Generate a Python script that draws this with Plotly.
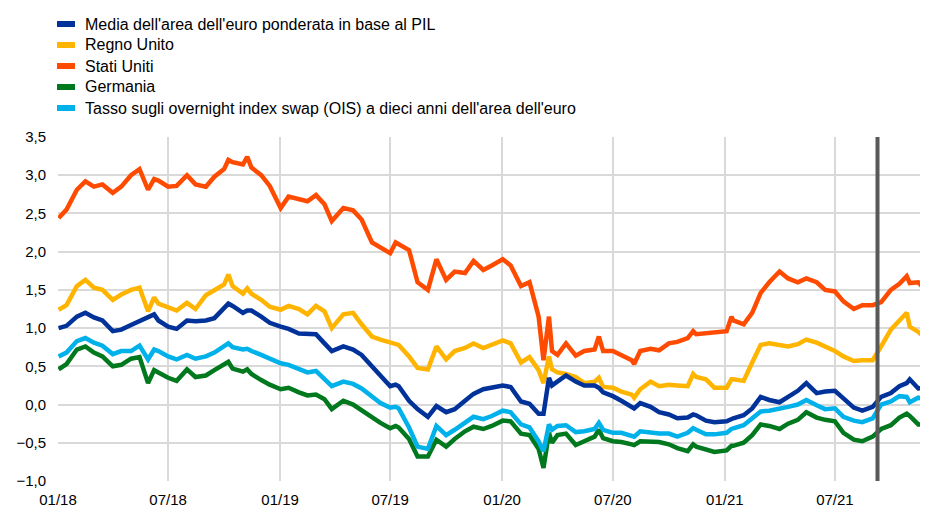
import plotly.graph_objects as go

dates = [
    "2018-01-02", "2018-01-15", "2018-02-01", "2018-02-15", "2018-03-01", "2018-03-15",
    "2018-04-01", "2018-04-15", "2018-05-01", "2018-05-15", "2018-05-29", "2018-06-08",
    "2018-06-15", "2018-07-01", "2018-07-15", "2018-08-01", "2018-08-15", "2018-09-01",
    "2018-09-15", "2018-10-01", "2018-10-08", "2018-10-15", "2018-11-01", "2018-11-08",
    "2018-11-15", "2018-12-01", "2018-12-15",
    "2019-01-02", "2019-01-15", "2019-02-01", "2019-02-15", "2019-03-01", "2019-03-15",
    "2019-03-27", "2019-04-15", "2019-05-01", "2019-05-15", "2019-06-01", "2019-06-15",
    "2019-07-01", "2019-07-10", "2019-07-15", "2019-08-01", "2019-08-15", "2019-09-01",
    "2019-09-15", "2019-10-01", "2019-10-15", "2019-11-01", "2019-11-15", "2019-12-01",
    "2019-12-15",
    "2020-01-02", "2020-01-15", "2020-02-01", "2020-02-15", "2020-03-01", "2020-03-09",
    "2020-03-18", "2020-03-23", "2020-04-01", "2020-04-15", "2020-05-01", "2020-05-15",
    "2020-06-01", "2020-06-08", "2020-06-15", "2020-07-01", "2020-07-15", "2020-08-01",
    "2020-08-05", "2020-08-15", "2020-09-01", "2020-09-15", "2020-10-01", "2020-10-15",
    "2020-11-01", "2020-11-10", "2020-11-15", "2020-12-01", "2020-12-15",
    "2021-01-04", "2021-01-12", "2021-01-15", "2021-02-01", "2021-02-15", "2021-03-01",
    "2021-03-15", "2021-04-01", "2021-04-15", "2021-05-01", "2021-05-15", "2021-06-01",
    "2021-06-15", "2021-07-01", "2021-07-15", "2021-08-01", "2021-08-15", "2021-09-01",
    "2021-09-15", "2021-10-01", "2021-10-15", "2021-10-27", "2021-11-01", "2021-11-15",
    "2021-11-29",
]

euro_area = [
    1.00, 1.03, 1.15, 1.20, 1.14, 1.10, 0.96, 0.98, 1.04, 1.09, 1.15, 1.18,
    1.10, 1.02, 0.99, 1.10, 1.09, 1.10, 1.13, 1.25, 1.32, 1.29, 1.20, 1.23,
    1.23, 1.15, 1.07,
    1.02, 0.99, 0.93, 0.92, 0.92, 0.80, 0.70, 0.76, 0.72, 0.65, 0.50, 0.37,
    0.24, 0.26, 0.24, 0.05, -0.06, -0.16, -0.02, -0.10, -0.06, 0.05, 0.14, 0.20,
    0.22,
    0.25, 0.23, 0.04, 0.01, -0.12, -0.12, 0.35, 0.25, 0.30, 0.38, 0.30, 0.25,
    0.25, 0.22, 0.16, 0.11, 0.05, -0.03, -0.05, 0.02, -0.03, -0.10, -0.13, -0.18,
    -0.17, -0.13, -0.14, -0.21, -0.23,
    -0.22, -0.19, -0.18, -0.14, -0.05, 0.10, 0.06, 0.03, 0.10, 0.18, 0.28, 0.15,
    0.17, 0.18, 0.08, -0.04, -0.08, -0.03, 0.10, 0.15, 0.24, 0.28, 0.33, 0.21,
    0.22,
]

uk = [
    1.24, 1.30, 1.55, 1.63, 1.53, 1.50, 1.37, 1.44, 1.50, 1.53, 1.22, 1.40,
    1.32, 1.27, 1.23, 1.33, 1.25, 1.43, 1.50, 1.57, 1.70, 1.55, 1.45, 1.52,
    1.45, 1.37, 1.28,
    1.24, 1.29, 1.25, 1.18, 1.29, 1.22, 1.00, 1.18, 1.20, 1.05, 0.89, 0.85,
    0.81, 0.80, 0.78, 0.63, 0.48, 0.46, 0.76, 0.59, 0.70, 0.74, 0.80, 0.74,
    0.78,
    0.84, 0.80, 0.55, 0.62, 0.45, 0.28, 0.63, 0.46, 0.42, 0.40, 0.36, 0.28,
    0.30, 0.35, 0.23, 0.22, 0.17, 0.13, 0.09, 0.20, 0.30, 0.24, 0.26, 0.25,
    0.24, 0.40, 0.36, 0.33, 0.22,
    0.22, 0.33, 0.33, 0.31, 0.55, 0.78, 0.80, 0.78, 0.76, 0.79, 0.85, 0.81,
    0.76, 0.70, 0.63, 0.57, 0.58, 0.58, 0.76, 0.98, 1.10, 1.20, 1.02, 0.95,
    0.85,
]

us = [
    2.44, 2.55, 2.81, 2.92, 2.85, 2.88, 2.77, 2.85, 3.00, 3.08, 2.81, 2.95,
    2.93, 2.85, 2.86, 3.00, 2.88, 2.85, 2.98, 3.08, 3.20, 3.17, 3.14, 3.24,
    3.10, 3.00, 2.86,
    2.57, 2.72, 2.68, 2.66, 2.74, 2.62, 2.40, 2.57, 2.54, 2.42, 2.12, 2.05,
    1.98, 2.12, 2.10, 2.02, 1.60, 1.50, 1.90, 1.63, 1.74, 1.72, 1.88, 1.76,
    1.82,
    1.90, 1.82, 1.55, 1.60, 1.15, 0.58, 1.15, 0.70, 0.65, 0.80, 0.64, 0.70,
    0.72, 0.89, 0.70, 0.70, 0.65, 0.58, 0.53, 0.70, 0.73, 0.71, 0.80, 0.82,
    0.87, 0.96, 0.92, 0.93, 0.94,
    0.96, 1.15, 1.10, 1.05, 1.20, 1.46, 1.60, 1.74, 1.65, 1.60, 1.65, 1.60,
    1.50, 1.48, 1.35, 1.25, 1.30, 1.30, 1.34, 1.50, 1.58, 1.68, 1.59, 1.60,
    1.48,
]

germany = [
    0.46, 0.53, 0.72, 0.76, 0.68, 0.63, 0.50, 0.52, 0.60, 0.62, 0.28, 0.45,
    0.42, 0.35, 0.31, 0.46, 0.36, 0.38, 0.45, 0.52, 0.56, 0.47, 0.43, 0.46,
    0.40, 0.32, 0.26,
    0.20, 0.22, 0.16, 0.12, 0.13, 0.07, -0.06, 0.05, 0.00, -0.08, -0.17, -0.24,
    -0.31, -0.28, -0.30, -0.45, -0.68, -0.68, -0.46, -0.55, -0.45, -0.35, -0.29, -0.32,
    -0.28,
    -0.21, -0.22, -0.38, -0.40, -0.58, -0.83, -0.37, -0.50, -0.40, -0.38, -0.53, -0.48,
    -0.42, -0.33, -0.44, -0.48, -0.49, -0.52, -0.53, -0.48, -0.48, -0.49, -0.52, -0.57,
    -0.61, -0.52, -0.55, -0.59, -0.62,
    -0.60, -0.54, -0.54, -0.50, -0.40, -0.26, -0.28, -0.32, -0.25, -0.20, -0.10, -0.17,
    -0.20, -0.22, -0.37, -0.46, -0.48, -0.42, -0.32, -0.27, -0.17, -0.12, -0.15, -0.26,
    -0.26,
]

ois = [
    0.63, 0.68, 0.83, 0.87, 0.81, 0.77, 0.66, 0.70, 0.70, 0.77, 0.59, 0.72,
    0.70, 0.63, 0.59, 0.65, 0.60, 0.63, 0.68, 0.76, 0.80, 0.75, 0.72, 0.73,
    0.70, 0.65, 0.60,
    0.54, 0.52, 0.46, 0.42, 0.44, 0.34, 0.24, 0.30, 0.27, 0.21, 0.11, 0.02,
    -0.04, -0.03, -0.05, -0.30, -0.55, -0.58, -0.28, -0.40, -0.33, -0.23, -0.16, -0.19,
    -0.15,
    -0.08, -0.10, -0.26, -0.30, -0.48, -0.61, -0.26, -0.33, -0.28, -0.27, -0.36, -0.35,
    -0.32, -0.24, -0.33, -0.37, -0.37, -0.41, -0.42, -0.35, -0.37, -0.38, -0.38, -0.42,
    -0.37, -0.31, -0.33, -0.39, -0.39,
    -0.37, -0.32, -0.31, -0.27, -0.18, -0.09, -0.08, -0.06, -0.03, 0.00, 0.06, -0.01,
    -0.06, -0.05, -0.16, -0.21, -0.23, -0.18, 0.00, 0.04, 0.11, 0.10, 0.03, 0.09,
    0.06,
]

names = [
    "Media dell'area dell'euro ponderata in base al PIL",
    "Regno Unito",
    "Stati Uniti",
    "Germania",
    "Tasso sugli overnight index swap (OIS) a dieci anni dell'area dell'euro",
]
colors = ["#003299", "#FFB400", "#FF4B00", "#00781E", "#00B1EA"]
series = [euro_area, uk, us, germany, ois]

event_date = "2021-09-09"
x_range = ["2018-01-01", "2021-12-01"]
y_range = [-1.0, 3.5]

# the page body adds an 8px offset, so the figure is 8px smaller
W, H = 920, 499
ML, MR, MT, MB = 50, 0, 129, 26
PW, PH = W - ML - MR, H - MT - MB
FONT = "Liberation Sans, Arial, sans-serif"

fig = go.Figure()
draw_order = [2, 1, 3, 4, 0]
for i in draw_order:
    fig.add_trace(go.Scatter(
        x=dates, y=series[i], mode="lines", name=names[i],
        line=dict(color=colors[i], width=4.5), showlegend=False,
    ))

# vertical event line
fig.add_shape(type="line", xref="x", yref="paper", x0=event_date, x1=event_date,
              y0=0, y1=1, line=dict(color="#595959", width=4), layer="above")

# custom legend (pixel positions converted to paper coordinates)
def px_x(p):
    return (p - ML) / PW

def px_y(p):
    return (H - MB - p) / PH

row_y = [16, 37, 58, 79, 100]
for i, yy in enumerate(row_y):
    fig.add_shape(type="line", xref="paper", yref="paper",
                  x0=px_x(49), x1=px_x(67), y0=px_y(yy), y1=px_y(yy),
                  line=dict(color=colors[i], width=6))
    fig.add_annotation(xref="paper", yref="paper", x=px_x(75), y=px_y(yy),
                       xanchor="left", yanchor="middle", showarrow=False,
                       text=names[i], font=dict(size=16, color="#000000", family=FONT))

fig.update_layout(
    width=W, height=H, autosize=False,
    margin=dict(l=ML, r=MR, t=MT, b=MB, pad=0),
    paper_bgcolor="white", plot_bgcolor="white",
    separators=", ",
    font=dict(family=FONT, size=15, color="#000000"),
    showlegend=False,
    xaxis=dict(
        type="date", range=x_range, tick0="2018-01-01", dtick="M6",
        tickformat="%m/%y", showgrid=True, gridcolor="#d9d9d9", gridwidth=1.5,
        zeroline=False, showline=False, ticks="outside", ticklen=5,
        tickcolor="rgba(0,0,0,0)", tickfont=dict(size=15), automargin=False,
    ),
    yaxis=dict(
        range=y_range, dtick=0.5, tick0=0, tickformat=".1f", showgrid=True,
        gridcolor="#d9d9d9", gridwidth=1.5, zeroline=False, showline=False,
        ticks="outside", ticklen=8, tickcolor="rgba(0,0,0,0)",
        tickfont=dict(size=15), automargin=False,
    ),
)

fig.write_html("out.html")
